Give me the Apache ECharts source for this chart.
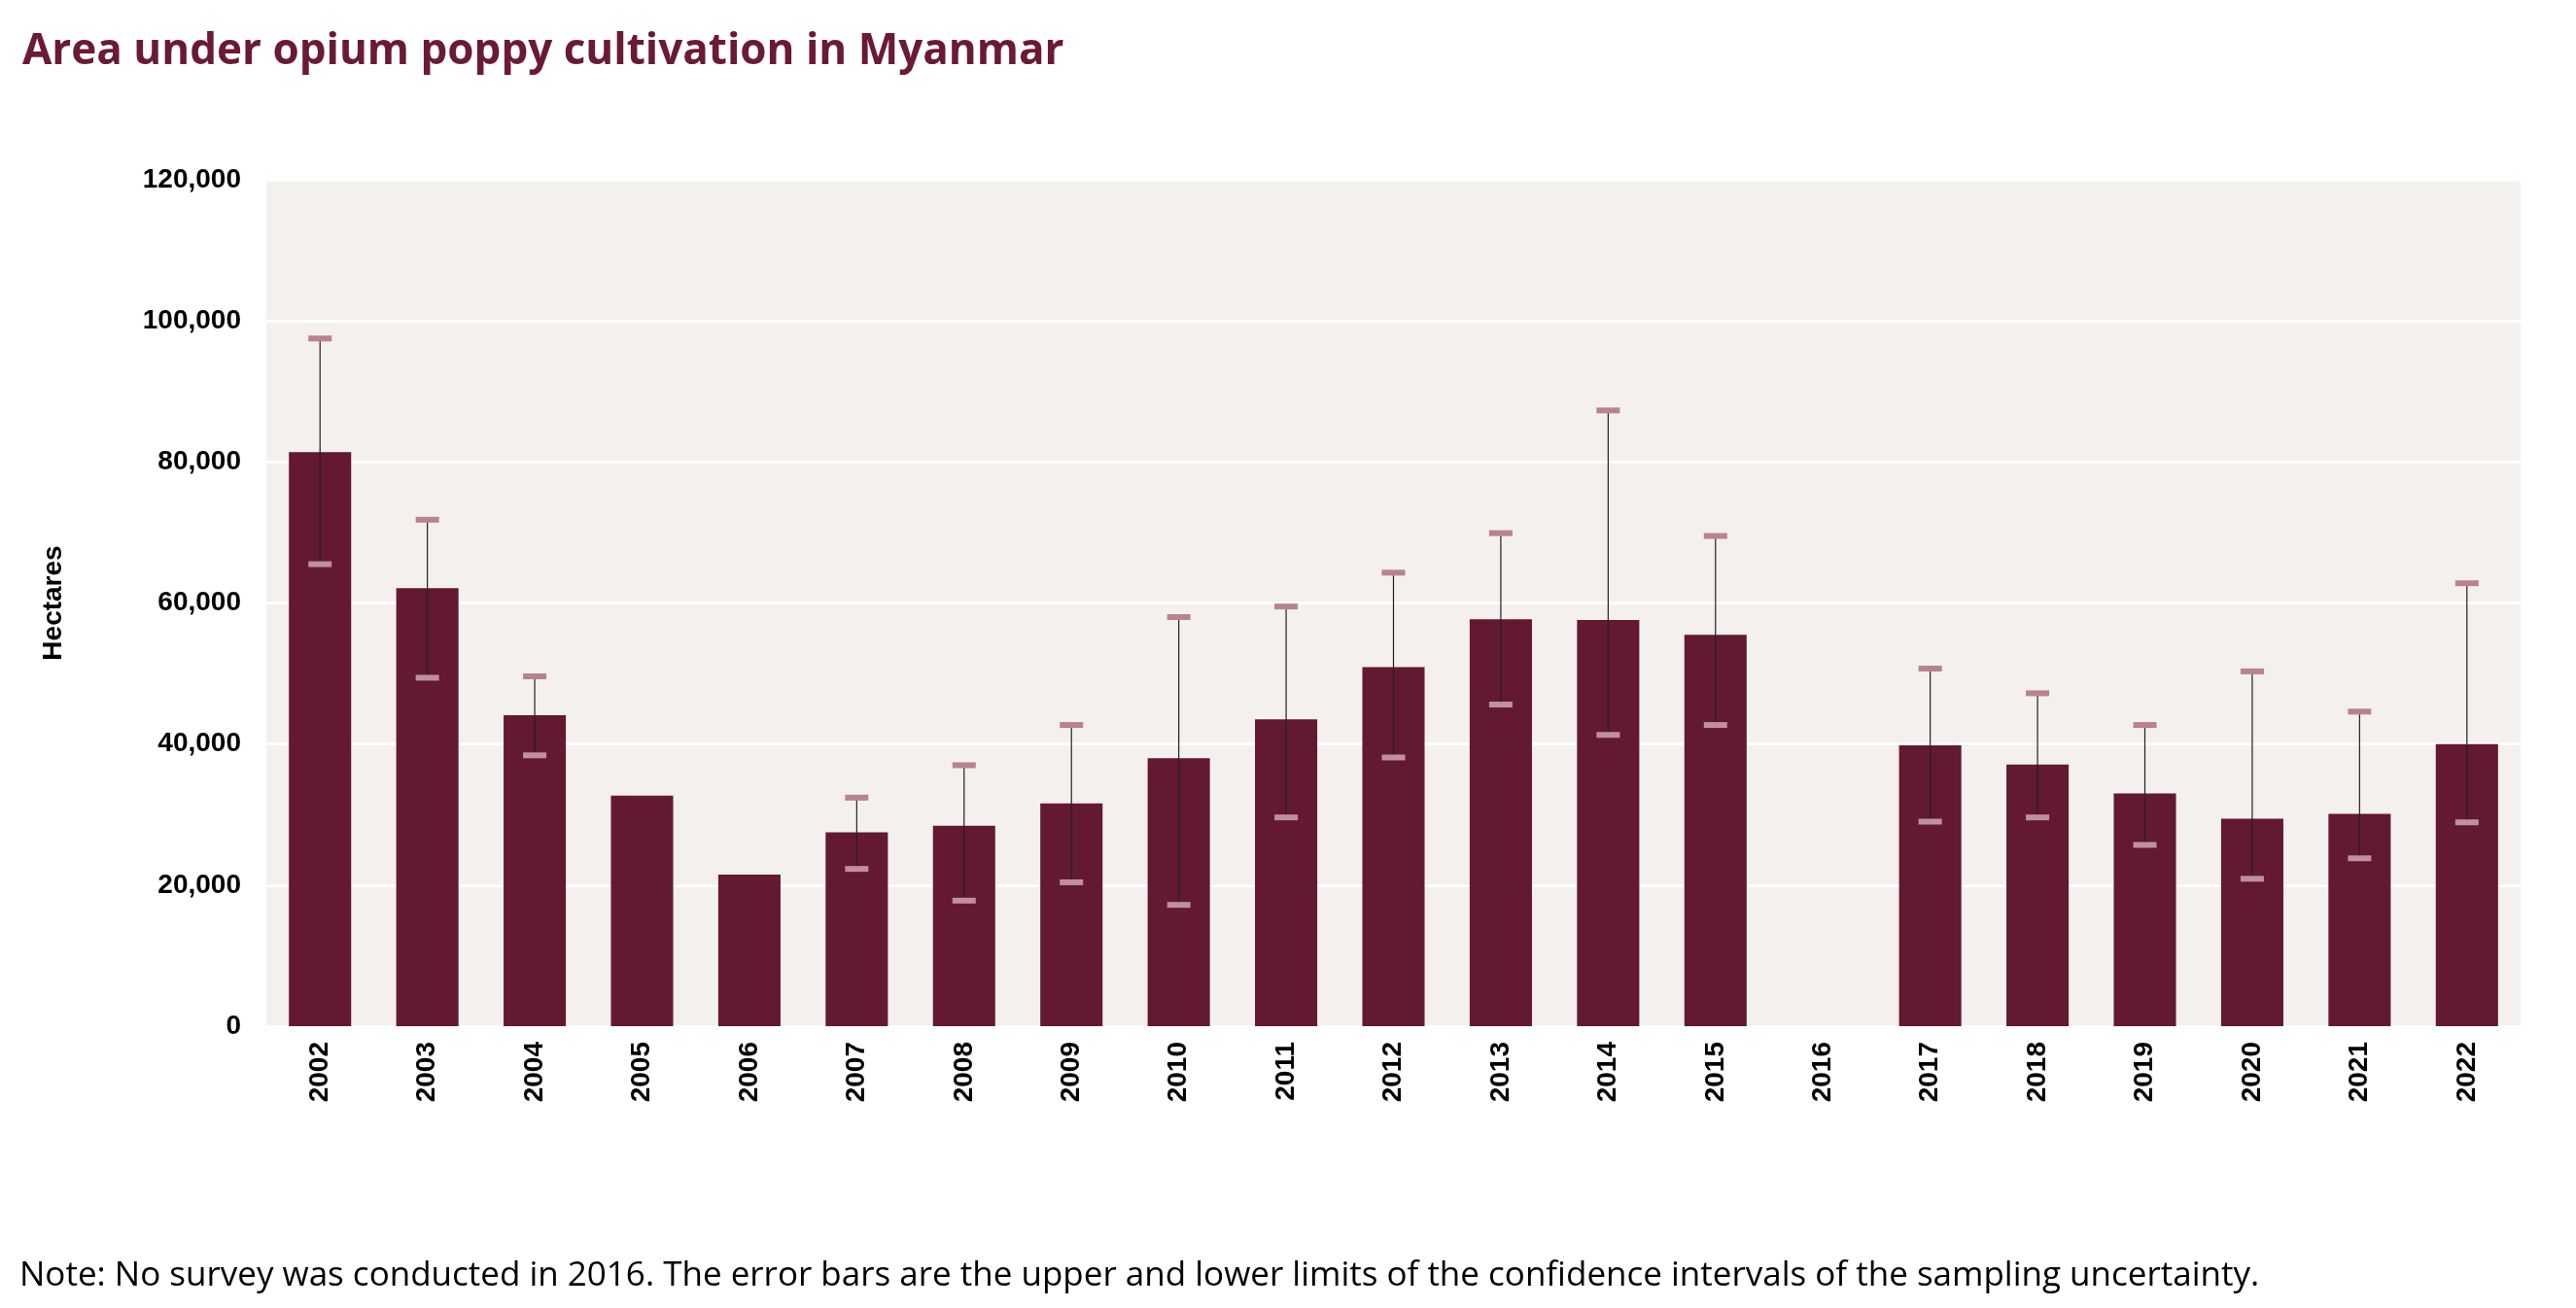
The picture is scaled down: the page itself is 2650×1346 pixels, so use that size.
<!DOCTYPE html>
<html>
<head>
<meta charset="utf-8">
<script src="https://cdn.jsdelivr.net/npm/echarts@6/dist/echarts.min.js"></script>
<style>
html,body{margin:0;padding:0;background:#fff;}
#chart{width:2650px;height:1346px;}
</style>
</head>
<body>
<div id="chart"></div>
<script>
let years = ['2002','2003','2004','2005','2006','2007','2008','2009','2010','2011','2012','2013','2014','2015','2016','2017','2018','2019','2020','2021','2022'];
let area = [81400, 62100, 44100, 32700, 21500, 27500, 28400, 31600, 38000, 43500, 50900, 57700, 57600, 55500, null, 39800, 37100, 33000, 29400, 30100, 40000];
let upper = [97500, 71800, 49600, null, null, 32400, 37000, 42700, 58000, 59500, 64300, 69900, 87300, 69500, null, 50700, 47200, 42700, 50300, 44600, 62800];
let lower = [65500, 49400, 38400, null, null, 22300, 17800, 20400, 17200, 29600, 38100, 45600, 41300, 42700, null, 29000, 29600, 25700, 20900, 23800, 28900];
let yTicks = [0, 20000, 40000, 60000, 80000, 100000, 120000];

let chart = echarts.init(document.getElementById('chart'));
let errData = years.map((y, i) => [i, lower[i], upper[i]]).filter(d => d[1] != null);

chart.setOption({
	animation: false,
	title: {
		text: 'Area under opium poppy cultivation in Myanmar',
		left: 18, top: 26,
		textStyle: {fontFamily: 'Open Sans', fontWeight: 'bold', fontSize: 44, color: '#6b1a33'}
	},
	graphic: [{
		type: 'text', left: 20, top: 1296,
		style: {text: 'Note: No survey was conducted in 2016. The error bars are the upper and lower limits of the confidence intervals of the sampling uncertainty.',
			font: '35px "Open Sans"', fill: '#000'}
	}],
	grid: {left: 274, right: 57, top: 185, bottom: 290, show: true, backgroundColor: '#f3f0ed', borderWidth: 0},
	xAxis: {
		type: 'category', data: years,
		axisLine: {show: false}, axisTick: {show: false},
		axisLabel: {rotate: 90, fontFamily: 'Arial', fontWeight: 'bold', fontSize: 28, color: '#000', margin: 16}
	},
	yAxis: {
		type: 'value', min: yTicks[0], max: yTicks[yTicks.length - 1], interval: 20000,
		name: 'Hectares', nameLocation: 'middle', nameGap: 205, nameRotate: 90,
		nameTextStyle: {fontFamily: 'Arial', fontWeight: 'bold', fontSize: 28, color: '#000'},
		axisLabel: {fontFamily: 'Arial', fontWeight: 'bold', fontSize: 28, color: '#000', margin: 26,
			formatter: v => v.toLocaleString('en-US')},
		splitLine: {lineStyle: {color: '#ffffff', width: 3}},
		axisLine: {show: false}, axisTick: {show: false}
	},
	series: [{
		type: 'bar', data: area, barWidth: '58%',
		itemStyle: {color: '#621931'}
	}, {
		type: 'custom', data: errData, z: 5,
		renderItem: (params, api) => {
			let i = api.value(0);
			let lo = api.coord([i, api.value(1)]);
			let hi = api.coord([i, api.value(2)]);
			let w = 12;
			return {type: 'group', children: [
				{type: 'line', shape: {x1: lo[0], y1: lo[1], x2: hi[0], y2: hi[1]}, style: {stroke: '#222', lineWidth: 1.2}},
				{type: 'line', shape: {x1: lo[0] - w, y1: lo[1], x2: lo[0] + w, y2: lo[1]}, style: {stroke: '#c0909c', lineWidth: 6}},
				{type: 'line', shape: {x1: hi[0] - w, y1: hi[1], x2: hi[0] + w, y2: hi[1]}, style: {stroke: '#b8838f', lineWidth: 6}}
			]};
		}
	}]
});
</script>
</body>
</html>
